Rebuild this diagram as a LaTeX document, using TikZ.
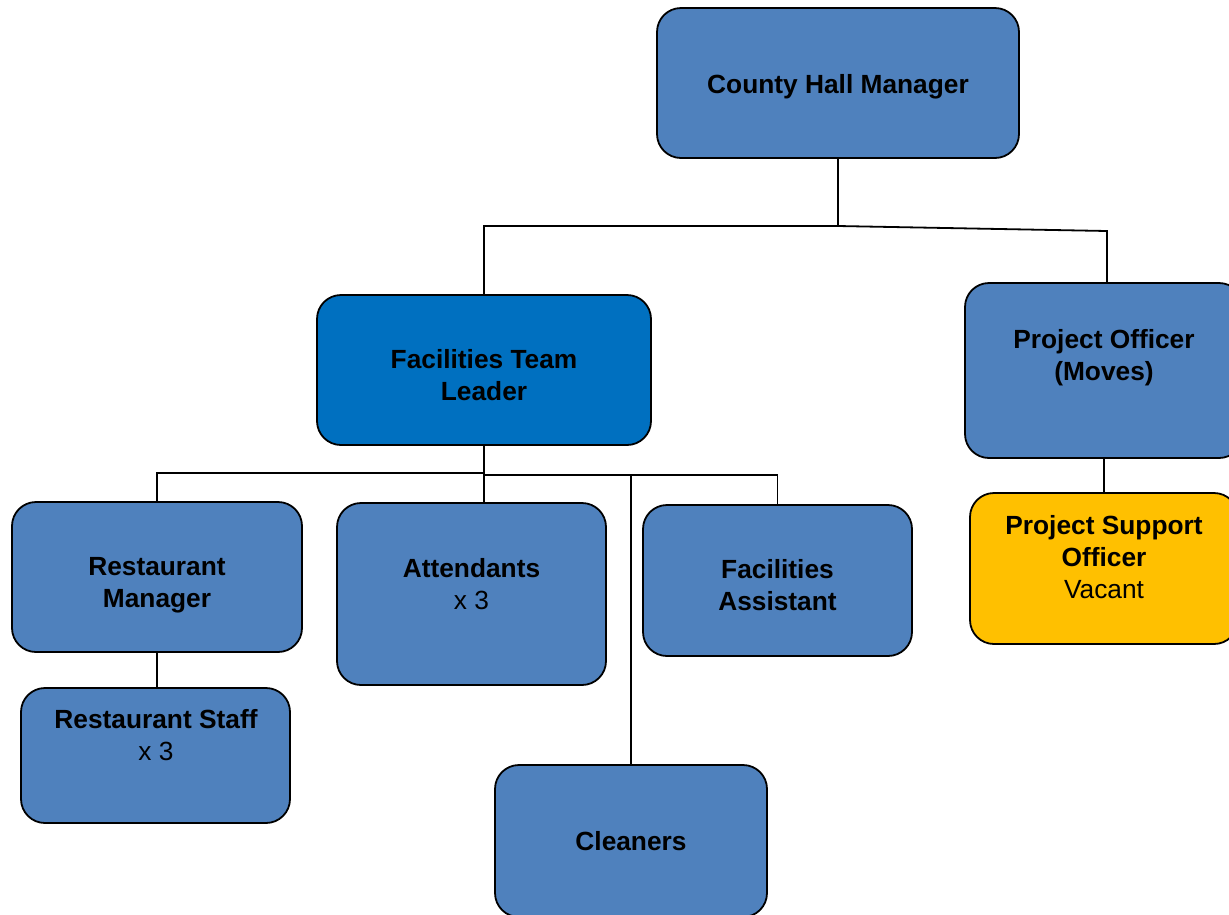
\documentclass[tikz,border=0pt]{standalone}
\usepackage{fontspec}
\setmainfont{Liberation Sans}
\definecolor{midblue}{HTML}{4F81BD}
\definecolor{darkblue}{HTML}{0070C0}
\definecolor{vacyellow}{HTML}{FFC000}
\begin{document}
\begin{tikzpicture}[x=1pt,y=-1pt,
  box/.style={draw=black, line width=1.8pt, rounded corners=24pt, fill=midblue, inner sep=0pt},
  txt/.style={font=\fontsize{26.3}{32}\selectfont, align=center, inner sep=0pt},
  conn/.style={line width=1.8pt, draw=black}]
\useasboundingbox (0,0) rectangle (1229,914);
% boxes
\node[box, minimum width=362pt, minimum height=150pt] (chm) at (838,83) {};
\node[box, fill=darkblue, minimum width=334pt, minimum height=150pt] (ftl) at (484,370) {};
\node[box, minimum width=278pt, minimum height=175pt] (po) at (1104,370.5) {};
\node[box, fill=vacyellow, minimum width=268pt, minimum height=151pt] (pso) at (1104,568.5) {};
\node[box, minimum width=290pt, minimum height=150pt] (rm) at (157,577) {};
\node[box, minimum width=269pt, minimum height=182pt] (att) at (471.5,594) {};
\node[box, minimum width=269pt, minimum height=151pt] (fa) at (777.5,580.5) {};
\node[box, minimum width=269pt, minimum height=135pt] (rs) at (155.5,755.5) {};
\node[box, minimum width=272pt, minimum height=152pt] (cl) at (631,841) {};
% texts
\node[txt] (tchm) at (838,87) {\bfseries County Hall Manager};
\node[txt] (tftl) at (484,375) {\bfseries Facilities Team\\\bfseries Leader};
\node[txt] (tpo) at (1104,358) {\bfseries Project Officer\\\bfseries (Moves)};
\node[txt] (tpso) at (1104,557) {\bfseries Project Support\\\bfseries Officer\\Vacant};
\node[txt] (trm) at (157,585) {\bfseries Restaurant\\\bfseries Manager};
\node[txt] (tatt) at (471.5,584) {\bfseries Attendants\\x 3};
\node[txt] (tfa) at (777.5,585) {\bfseries Facilities\\\bfseries Assistant};
\node[txt] (trs) at (156,735) {\bfseries Restaurant Staff\\x 3};
\node[txt] (tcl) at (631,841) {\bfseries Cleaners};
% connectors
\coordinate (j1) at (838,226);
\coordinate (j2) at (1107,231);
\draw[conn] (chm.south) -- (j1) -| (ftl.north);
\draw[conn] (j1) -- (j2) -- (j2 |- po.north);
\coordinate (k1) at (484,473);
\coordinate (k2) at (484,475);
\draw[conn] (ftl.south) -- (k1) -| (rm.north);
\draw[conn] (k1) -- (k2) -| (fa.north);
\draw[conn] (k2) -- (k2 |- att.north);
\draw[conn] (cl.north |- k2) -- (cl.north);
\draw[conn] (po.south) -- (pso.north);
\draw[conn] (rm.south) -- (rm.south |- rs.north);
\end{tikzpicture}
\end{document}
